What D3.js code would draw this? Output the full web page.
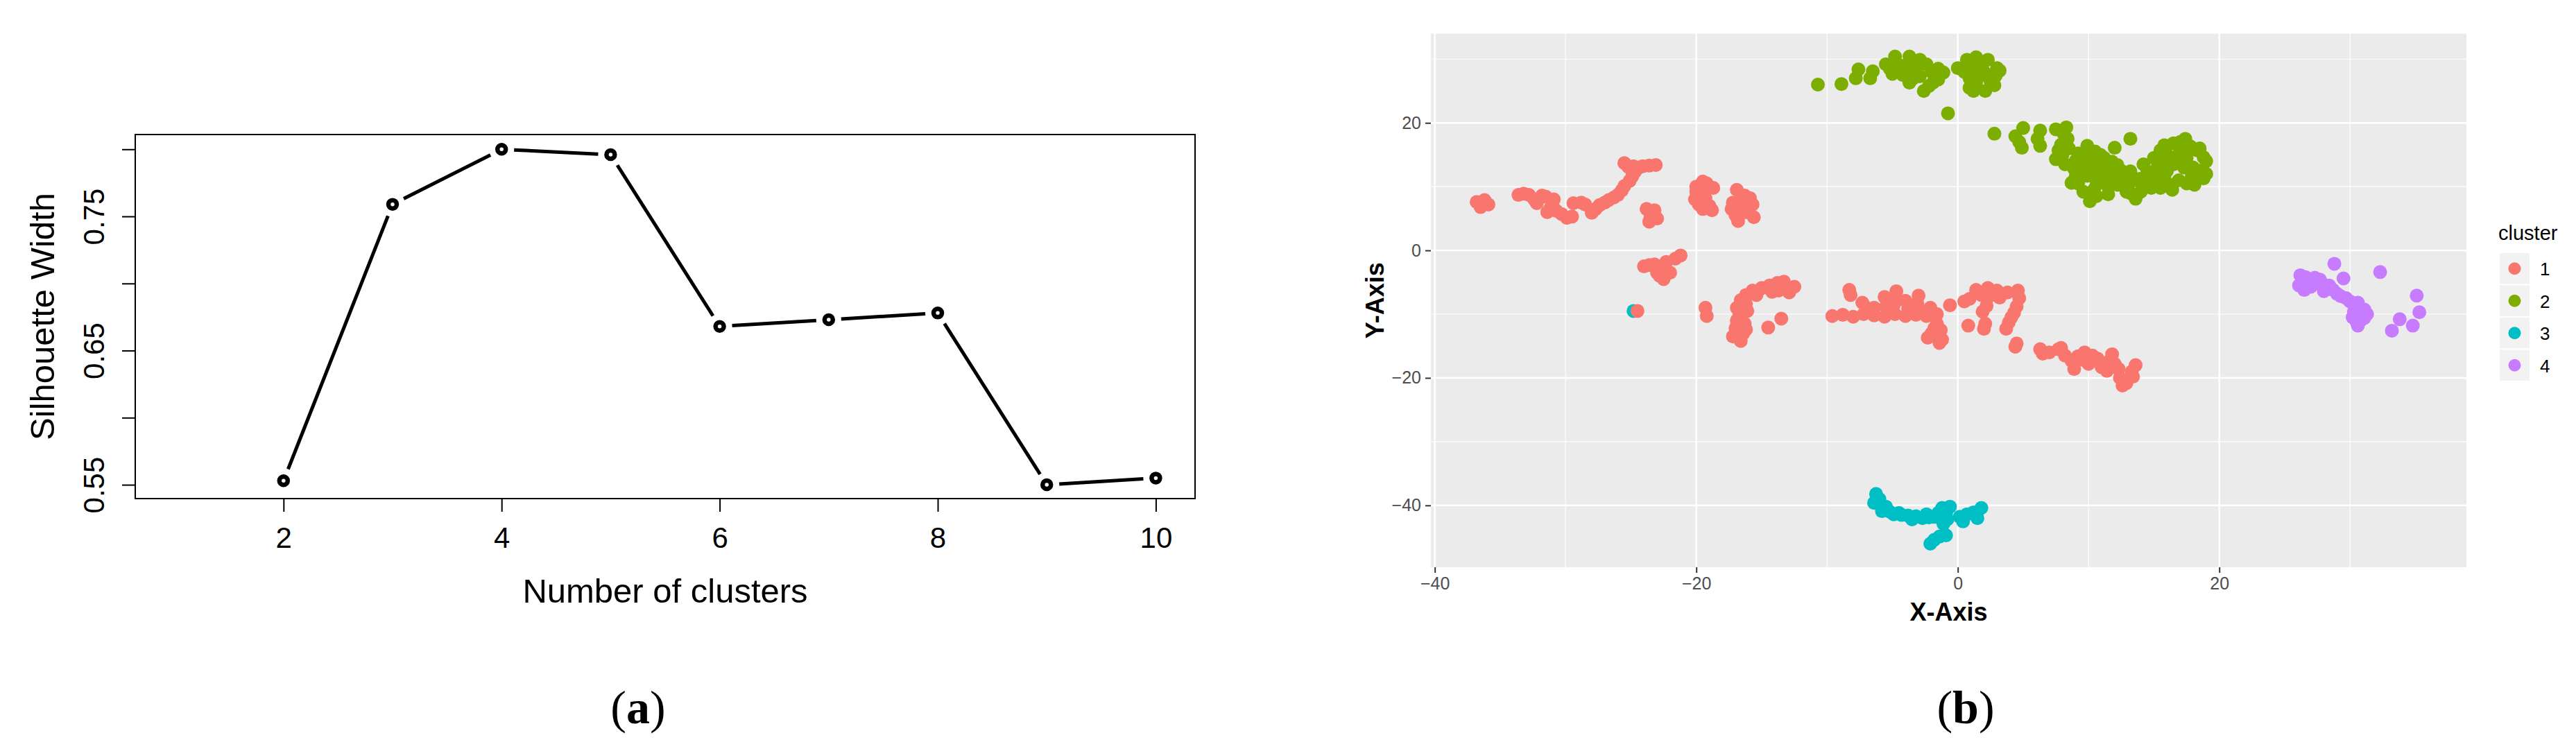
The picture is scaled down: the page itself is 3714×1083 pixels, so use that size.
<!DOCTYPE html>
<html>
<head>
<meta charset="utf-8">
<script src="https://cdn.jsdelivr.net/npm/d3@7"></script>
<style>
  body { margin: 0; background: #fff; }
  svg { display: block; }
</style>
</head>
<body>
<svg></svg>
<script>
const WIDTH = 3714;
const HEIGHT = 1083;

// (a) silhouette width per number of clusters
const clusterCounts = [2, 3, 4, 5, 6, 7, 8, 9, 10];
const silWidth = [0.553, 0.759, 0.800, 0.796, 0.668, 0.673, 0.678, 0.550, 0.555];
const silTicks = [0.55, 0.60, 0.65, 0.70, 0.75, 0.80];
const silTickLabels = [0.55, 0.65, 0.75];
const countTicks = [2, 4, 6, 8, 10];

// (b) 2-d embedding, one list of [x, y] per cluster
const clusterNames = ["1", "2", "3", "4"];
const clusterColors = ["#F8766D", "#7CAE00", "#00BFC4", "#C77CFF"];

const cluster1 = [
  [-36.8,7.6],[-36.2,7.9],[-36.5,6.8],[-35.9,7.2],
  [-33.6,8.7],[-33.2,8.9],[-32.8,8.7],[-32.4,8.0],[-32.2,7.4],[-31.8,8.6],[-31.5,8.4],[-31.0,7.3],
  [-31.2,6.5],[-30.7,6.2],[-30.3,5.7],[-29.9,5.1],[-29.5,5.3],[-30.9,8.0],[-31.4,6.0],
  [-29.4,7.4],[-28.8,7.5],[-28.5,7.2],
  [-28.0,5.9],[-27.7,6.5],[-27.4,7.1],[-27.0,7.5],[-26.7,7.9],[-26.3,8.3],[-26.0,8.7],[-25.7,9.4],
  [-25.5,10.1],[-25.1,10.9],[-24.9,11.6],[-24.7,12.3],[-25.5,13.7],[-25.2,13.1],[-24.8,13.2],
  [-24.4,13.0],[-24.1,13.2],[-23.6,13.3],[-23.1,13.4],
  [-23.8,6.5],[-23.2,6.3],[-23.5,5.2],[-23.0,5.0],[-23.6,4.5],
  [-20.0,10.0],[-19.5,10.8],[-19.2,10.5],[-18.7,9.8],[-19.6,9.0],[-20.1,8.0],[-19.3,8.2],[-19.0,7.0],
  [-18.8,6.3],[-19.8,7.2],[-19.5,6.5],[-20.0,9.2],
  [-16.9,9.5],[-16.3,8.6],[-17.2,7.5],[-16.5,7.0],[-17.0,5.5],[-16.2,6.0],[-15.7,7.2],[-15.6,5.2],
  [-16.8,4.6],[-15.9,8.2],[-17.3,6.5],[-16.6,8.0],
  [-24.0,-2.5],[-23.6,-2.3],[-23.2,-2.2],[-23.0,-3.5],[-22.5,-4.5],[-22.8,-4.0],[-22.0,-3.5],
  [-22.3,-1.8],[-21.6,-1.3],[-21.2,-0.8],[-22.6,-2.8],
  [-24.5,-9.5],[-19.3,-9.0],[-19.2,-10.3],
  [-17.2,-13.5],[-17.0,-12.2],[-16.9,-11.0],[-16.7,-10.0],[-16.9,-9.0],[-16.6,-7.8],[-16.2,-7.0],
  [-15.7,-6.3],[-15.0,-5.9],[-14.4,-5.5],[-13.8,-5.1],[-13.3,-4.9],[-13.1,-5.9],[-12.9,-6.6],
  [-12.5,-5.7],[-16.3,-11.5],[-16.4,-13.0],[-16.6,-14.2],[-16.1,-9.5],[-16.2,-12.4],[-13.7,-6.3],
  [-14.2,-6.5],[-14.5,-12.1],[-13.5,-10.7],[-16.2,-8.4],[-15.4,-7.0],
  [-9.6,-10.3],[-8.8,-10.1],[-8.0,-10.4],[-7.2,-10.0],[-6.4,-10.2],[-5.6,-10.4],[-4.8,-10.0],
  [-4.0,-10.3],[-3.2,-10.1],[-2.4,-10.3],[-1.6,-10.0],[-8.3,-6.2],[-8.2,-7.0],[-7.3,-8.2],[-7.0,-9.0],
  [-5.6,-7.3],[-4.7,-6.4],[-4.8,-7.6],[-4.9,-8.6],[-4.0,-7.9],[-3.0,-7.1],[-3.1,-8.3],[-2.1,-9.0],
  [-6.4,-9.0],[-5.5,-8.8],[-0.6,-8.6],[0.5,-8.0],[0.9,-7.6],[-3.8,-9.2],[-2.7,-9.5],
  [1.4,-6.2],[2.3,-5.9],[3.0,-6.3],[3.8,-6.6],[4.6,-6.3],[4.7,-7.5],[4.5,-8.8],[2.4,-7.2],[2.2,-8.7],
  [1.9,-9.6],[4.3,-9.8],[3.9,-11.3],[3.7,-12.3],[1.8,-7.0],[3.2,-7.4],[4.1,-10.5],
  [-1.6,-11.5],[-1.3,-12.5],[-2.0,-13.0],[-2.3,-13.7],[-1.2,-14.0],[-1.4,-14.5],[-1.8,-12.2],
  [0.8,-11.8],[2.1,-11.5],[2.0,-12.3],[4.4,-15.1],[4.5,-14.6],
  [6.3,-15.5],[6.5,-16.2],[7.0,-16.0],[7.7,-15.5],[7.9,-15.3],[8.2,-16.5],[8.7,-17.3],[9.2,-16.6],
  [9.7,-16.0],[10.3,-16.5],[10.0,-17.8],[11.0,-18.3],[11.5,-17.5],[11.8,-16.3],[12.3,-18.6],
  [12.4,-20.0],[12.6,-21.2],[12.9,-20.8],[13.3,-19.0],[13.6,-18.0],[13.4,-19.8],[8.9,-18.6],[10.7,-17.0],
  [9.6,-17.2],[11.4,-18.9],[12.0,-17.8]
];

const cluster2 = [
  [-10.7,26.0],[-8.9,26.1],
  [-7.6,28.4],[-7.8,27.0],[-6.7,27.0],[-6.5,28.1],
  [-5.5,29.2],[-4.8,30.4],[-3.7,30.4],[-5.0,27.7],[-3.8,28.4],[-2.9,29.9],[-2.4,29.2],[-3.7,26.3],
  [-2.6,25.0],[-2.9,27.3],[-1.5,26.8],[-1.1,27.9],[-1.9,26.3],[-4.4,29.0],[-3.2,28.6],
  [-5.2,28.5],[-4.2,27.5],[-3.4,27.0],[-2.0,28.0],[-1.5,28.5],[-2.2,25.8],
  [-0.75,21.5],
  [0.0,28.6],[0.7,29.9],[1.4,30.3],[2.3,29.9],[3.0,28.6],[1.6,28.4],[0.9,27.0],[2.3,27.3],
  [0.9,25.5],[2.1,25.0],[2.8,25.9],[1.4,26.3],[2.9,27.4],[1.6,29.4],
  [0.5,28.0],[1.0,28.8],[2.0,28.0],[2.5,26.5],[1.2,25.0],[1.8,27.5],[3.2,28.2],
  [2.8,18.3],
  [4.4,17.9],[5.0,19.2],[4.9,16.1],[4.7,17.0],
  [6.3,18.8],[6.3,16.4],[6.1,17.5],
  [7.5,19.0],[8.3,19.3],[8.4,17.5],[7.7,15.7],[7.5,14.3],[7.9,16.6],[8.1,18.3],
  [9.9,16.4],[10.3,13.9],[8.9,12.8],[8.7,10.6],[9.9,11.7],[10.1,7.7],[9.6,9.2],[10.6,10.3],
  [11.8,13.9],[12.0,16.1],[11.8,12.4],[13.2,17.5],[11.3,11.3],[9.4,13.5],[10.9,15.0],[9.2,15.2],
  [12.2,10.3],[13.2,12.4],[13.6,8.1],[12.9,9.2],[14.1,10.3],[15.1,11.7],[16.2,10.3],[15.5,15.7],
  [16.5,16.8],[17.4,17.5],[15.7,13.9],[16.7,14.6],[18.3,15.7],[18.8,14.6],[17.9,11.7],[18.8,11.3],
  [18.1,10.3],[16.9,11.0],[15.3,13.2],[16.4,9.5],[14.5,12.4],[13.9,11.2],[12.6,11.0],[17.3,13.0],
  [17.8,16.3],[14.8,9.8],
  [8.0,15.0],[8.5,16.0],[8.2,13.5],[9.0,14.0],[9.5,12.5],[10.0,13.0],[10.5,12.0],[11.0,13.0],
  [10.8,11.0],[11.5,10.0],[12.0,11.5],[12.5,12.5],[13.5,11.0],[13.0,10.0],[14.5,11.0],[15.0,10.5],
  [15.8,11.5],[16.0,12.5],[16.5,13.5],[17.0,15.5],[16.0,15.0],[17.5,14.5],[18.0,13.0],[18.5,12.5],
  [17.5,10.5],[15.5,9.8],[14.0,9.2],[13.2,9.0],[11.5,8.8],[10.6,8.5],[10.4,9.5],[9.2,10.5],
  [12.2,13.4],[11.2,14.5],[10.5,15.5],[10.0,14.8],[9.0,11.5],[14.2,13.5],[15.0,14.5],[15.8,16.5],
  [17.0,17.0],[18.5,16.0],[19.0,14.0],[19.0,12.0]
];

const cluster3 = [
  [-24.8,-9.5],
  [-6.25,-38.2],[-6.4,-39.6],[-5.8,-40.9],[-5.5,-40.2],[-4.9,-41.4],[-4.3,-41.5],[-3.8,-41.6],
  [-3.2,-41.7],[-2.7,-42.0],[-2.2,-41.9],[-1.8,-41.8],[-1.2,-40.4],[-0.6,-40.2],[-0.8,-42.2],
  [-1.1,-42.9],[0.15,-41.8],[0.7,-41.4],[1.2,-41.1],[1.8,-40.4],[1.5,-42.0],[-0.9,-41.3],
  [-6.0,-39.0],[-5.2,-41.0],[-4.5,-41.2],[-3.5,-42.2],[-2.4,-41.4],[-1.5,-41.2],[0.4,-42.5],
  [-2.1,-46.0],[-1.4,-44.9],[-0.9,-44.7],[-1.8,-45.4]
];

const cluster4 = [
  [26.2,-3.9],[26.1,-5.5],[27.0,-5.7],[27.7,-4.6],[28.0,-6.4],[29.0,-6.8],[29.7,-7.5],[30.6,-8.2],
  [31.1,-9.3],[31.1,-10.6],[30.6,-11.8],[26.5,-6.2],[27.3,-4.3],[26.7,-4.8],[28.4,-5.5],[30.3,-9.6],
  [30.8,-11.0],
  [26.6,-4.2],[27.5,-5.2],[28.2,-5.8],[28.7,-6.2],[29.3,-7.2],[30.0,-8.0],[30.4,-8.8],[30.9,-9.8],
  [30.2,-10.5],[30.5,-11.2],[31.3,-10.0],[26.3,-5.0],[27.8,-5.0],
  [28.8,-2.1],[29.5,-4.4],[32.3,-3.4],[35.1,-7.1],[35.3,-9.7],[33.8,-10.8],[34.8,-11.8],[33.2,-12.6]
];

const clusterPoints = [cluster1, cluster2, cluster3, cluster4];
const drawOrder = [2, 0, 1, 3];

const gridMajor = [-40, -20, 0, 20];
const gridMinor = [-30, -10, 10, 30];

var svg = d3.select("svg")
    .attr("width", WIDTH)
    .attr("height", HEIGHT)
    .attr("viewBox", `0 0 ${WIDTH} ${HEIGHT}`)
    .style("font-family", "'Liberation Sans', Arial, sans-serif");

svg.append("rect")
    .attr("width", WIDTH)
    .attr("height", HEIGHT)
    .attr("fill", "#fff");

// ---------- panel (a) ----------
const A = {left: 195, right: 1723, top: 194, bottom: 719};

var xA = d3.scaleLinear().domain([0.64, 10.36]).range([A.left, A.right]);
var yA = d3.scaleLinear().domain([0.5397, 0.811]).range([A.bottom, A.top]);

var panelA = svg.append("g").attr("id", "panel-a");

var xAxisA = panelA.append("g")
    .attr("transform", `translate(0,${A.bottom})`)
    .call(d3.axisBottom(xA).tickValues(countTicks).tickSize(19).tickPadding(22));

var yAxisA = panelA.append("g")
    .attr("transform", `translate(${A.left},0)`)
    .call(d3.axisLeft(yA).tickValues(silTicks).tickSize(19)
        .tickFormat(d => silTickLabels.some(v => Math.abs(v - d) < 1e-9) ? d3.format(".2f")(d) : ""));

[xAxisA, yAxisA].forEach(ax => {
    ax.select(".domain").remove();
    ax.selectAll(".tick line").attr("stroke", "#000").attr("stroke-width", 2);
    ax.selectAll(".tick text")
        .attr("fill", "#000")
        .style("font-size", "42px")
        .style("font-family", "'Liberation Sans', Arial, sans-serif");
});

yAxisA.selectAll(".tick text")
    .attr("x", 0)
    .attr("y", -45)
    .attr("dy", 0)
    .attr("text-anchor", "middle")
    .attr("transform", "rotate(-90)");

panelA.append("rect")
    .attr("x", A.left)
    .attr("y", A.top)
    .attr("width", A.right - A.left)
    .attr("height", A.bottom - A.top)
    .attr("fill", "none")
    .attr("stroke", "#000")
    .attr("stroke-width", 2);

// lines with gaps around the points (type = "b")
const pts = clusterCounts.map((k, i) => ({x: xA(k), y: yA(silWidth[i])}));
const GAP = 18;
const segs = d3.pairs(pts).map(([p, q]) => {
    let dx = q.x - p.x, dy = q.y - p.y;
    let len = Math.hypot(dx, dy);
    let ux = dx / len, uy = dy / len;
    return [[p.x + ux * GAP, p.y + uy * GAP], [q.x - ux * GAP, q.y - uy * GAP]];
});

var lineGenerator = d3.line();
panelA.selectAll("path.seg")
    .data(segs)
    .join("path")
    .attr("class", "seg")
    .attr("d", d => lineGenerator(d))
    .attr("stroke", "#000")
    .attr("stroke-width", 5)
    .attr("fill", "none");

panelA.selectAll("circle.pt")
    .data(clusterCounts)
    .join("circle")
    .attr("class", "pt")
    .attr("cx", d => xA(d))
    .attr("cy", (d, i) => yA(silWidth[i]))
    .attr("r", 6)
    .attr("fill", "#fff")
    .attr("stroke", "#000")
    .attr("stroke-width", 6.5);

panelA.append("text")
    .attr("x", (A.left + A.right) / 2)
    .attr("y", 869)
    .attr("text-anchor", "middle")
    .style("font-size", "49px")
    .text("Number of clusters");

panelA.append("text")
    .attr("transform", `translate(78,${(A.top + A.bottom) / 2}) rotate(-90)`)
    .attr("text-anchor", "middle")
    .style("font-size", "49px")
    .text("Silhouette Width");

// ---------- panel (b) ----------
const B = {left: 2063, right: 3556, top: 48.5, bottom: 818};

var xB = d3.scaleLinear().domain([-40.3, 38.9]).range([B.left, B.right]);
var yB = d3.scaleLinear().domain([-49.7, 34.0]).range([B.bottom, B.top]);

var panelB = svg.append("g").attr("id", "panel-b");

panelB.append("rect")
    .attr("x", B.left)
    .attr("y", B.top)
    .attr("width", B.right - B.left)
    .attr("height", B.bottom - B.top)
    .attr("fill", "#EBEBEB");

var grid = panelB.append("g").attr("stroke", "#fff");
grid.selectAll("line.vminor").data(gridMinor).join("line")
    .attr("x1", d => xB(d)).attr("x2", d => xB(d))
    .attr("y1", B.top).attr("y2", B.bottom)
    .attr("stroke-width", 1.2);
grid.selectAll("line.hminor").data(gridMinor).join("line")
    .attr("y1", d => yB(d)).attr("y2", d => yB(d))
    .attr("x1", B.left).attr("x2", B.right)
    .attr("stroke-width", 1.2);
grid.selectAll("line.vmajor").data(gridMajor).join("line")
    .attr("x1", d => xB(d)).attr("x2", d => xB(d))
    .attr("y1", B.top).attr("y2", B.bottom)
    .attr("stroke-width", 2.4);
grid.selectAll("line.hmajor").data(gridMajor).join("line")
    .attr("y1", d => yB(d)).attr("y2", d => yB(d))
    .attr("x1", B.left).attr("x2", B.right)
    .attr("stroke-width", 2.4);

var dots = panelB.append("g");
drawOrder.forEach(ci => {
    dots.append("g")
        .attr("fill", clusterColors[ci])
        .selectAll("circle")
        .data(clusterPoints[ci])
        .join("circle")
        .attr("cx", d => xB(d[0]))
        .attr("cy", d => yB(d[1]))
        .attr("r", 10);
});

var xAxisB = panelB.append("g")
    .attr("transform", `translate(0,${B.bottom})`)
    .call(d3.axisBottom(xB).tickValues(gridMajor).tickSize(8).tickPadding(6));
var yAxisB = panelB.append("g")
    .attr("transform", `translate(${B.left},0)`)
    .call(d3.axisLeft(yB).tickValues(gridMajor).tickSize(8).tickPadding(6));

[xAxisB, yAxisB].forEach(ax => {
    ax.select(".domain").remove();
    ax.selectAll(".tick line").attr("stroke", "#333").attr("stroke-width", 2);
    ax.selectAll(".tick text")
        .attr("fill", "#4D4D4D")
        .style("font-size", "25px")
        .style("font-family", "'Liberation Sans', Arial, sans-serif");
});

panelB.append("text")
    .attr("x", (B.left + B.right) / 2)
    .attr("y", 895)
    .attr("text-anchor", "middle")
    .style("font-size", "36px")
    .style("font-weight", "bold")
    .text("X-Axis");

panelB.append("text")
    .attr("transform", `translate(1995,${(B.top + B.bottom) / 2}) rotate(-90)`)
    .attr("text-anchor", "middle")
    .style("font-size", "36px")
    .style("font-weight", "bold")
    .text("Y-Axis");

// legend
var legend = panelB.append("g").attr("transform", "translate(3603,364)");
legend.append("text")
    .attr("x", -1)
    .attr("y", -18)
    .style("font-size", "29px")
    .attr("fill", "#000")
    .text("cluster");

const KEY_W = 45, KEY_H = 46.5;
var keys = legend.selectAll("g.key")
    .data(clusterNames)
    .join("g")
    .attr("class", "key")
    .attr("transform", (d, i) => `translate(0,${i * KEY_H})`);
keys.append("rect")
    .attr("width", KEY_W)
    .attr("height", KEY_H)
    .attr("fill", "#F2F2F2")
    .attr("stroke", "#fff")
    .attr("stroke-width", 2);
keys.append("circle")
    .attr("cx", KEY_W / 2)
    .attr("cy", KEY_H / 2)
    .attr("r", 9)
    .attr("fill", (d, i) => clusterColors[i]);
keys.append("text")
    .attr("x", 59)
    .attr("y", KEY_H / 2 + 10)
    .style("font-size", "26px")
    .text(d => d);

// ---------- captions ----------
const captions = [["a", 920], ["b", 2834]];
captions.forEach(([letter, cx]) => {
    let t = svg.append("text")
        .attr("x", cx)
        .attr("y", 1043)
        .attr("text-anchor", "middle")
        .style("font-family", "'Liberation Serif', 'Times New Roman', serif")
        .style("font-size", "68px");
    t.append("tspan").text("(");
    t.append("tspan").style("font-weight", "bold").text(letter);
    t.append("tspan").text(")");
});
</script>
</body>
</html>
